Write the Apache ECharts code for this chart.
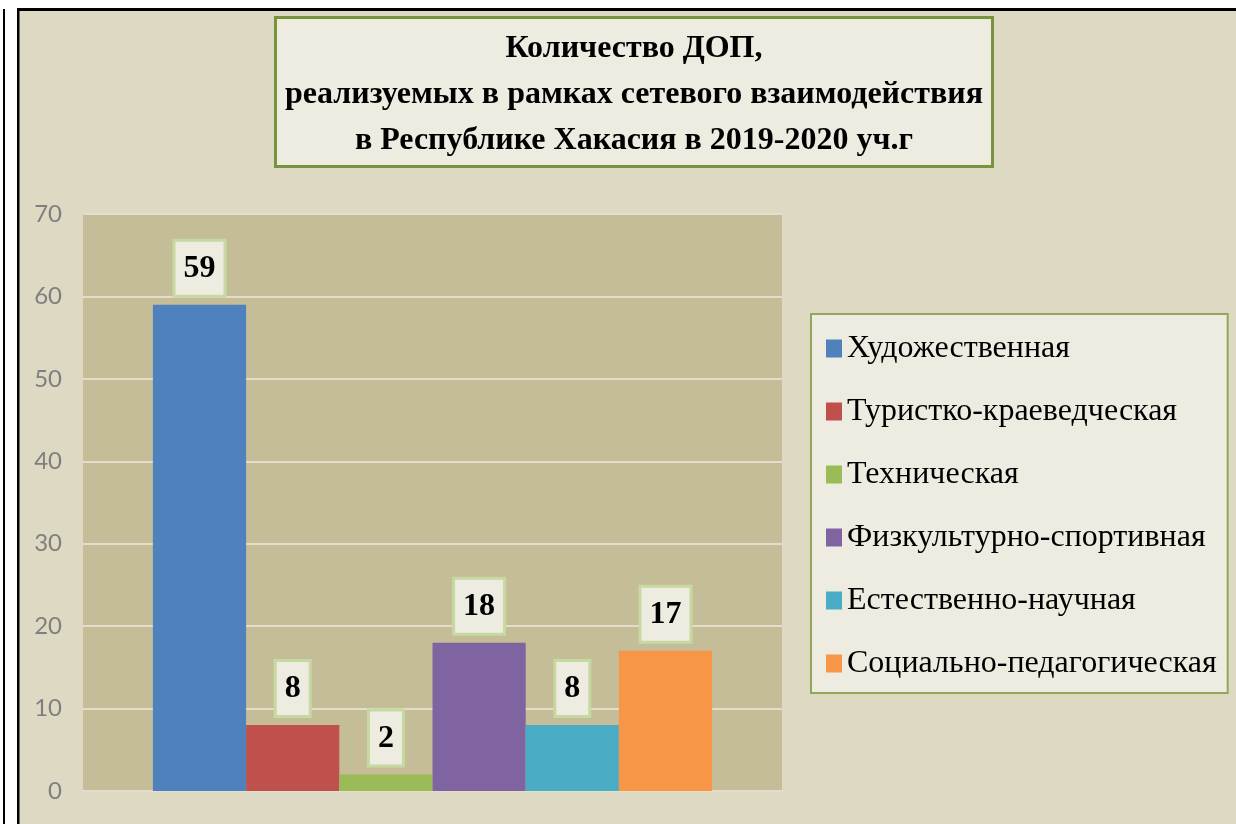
<!DOCTYPE html>
<html>
<head>
<meta charset="utf-8">
<script src="https://cdn.jsdelivr.net/npm/echarts@6/dist/echarts.min.js"></script>
<style>
  html, body { margin: 0; padding: 0; background: #fff; }
  #chart { width: 1236px; height: 824px; }
</style>
</head>
<body>
<div id="chart"></div>
<script>
// данные диаграммы
var seriesNames = [
  'Художественная',
  'Туристко-краеведческая',
  'Техническая',
  'Физкультурно-спортивная',
  'Естественно-научная',
  'Социально-педагогическая'
]
var seriesValues = [59, 8, 2, 18, 8, 17]
var seriesColors = ['#4F81BD', '#C0504D', '#9BBB59', '#8064A2', '#4BACC6', '#F79646']
var categories = ['']
var titleText = 'Количество ДОП,\nреализуемых в рамках сетевого взаимодействия\nв Республике Хакасия в 2019-2020 уч.г'

var chart = echarts.init(document.getElementById('chart'))

var series = seriesNames.map(function(name, i) {
  return {
    name: name,
    type: 'bar',
    barGap: 0,
    barCategoryGap: '20%',
    itemStyle: { color: seriesColors[i] },
    label: {
      show: true,
      position: 'top',
      distance: 10,
      color: '#000',
      fontFamily: 'Liberation Serif',
      fontWeight: 'bold',
      fontSize: 32,
      lineHeight: 34,
      backgroundColor: '#EEECE1',
      borderColor: '#C6D9A0',
      borderWidth: 3,
      padding: [10, 8, 9, 8]
    },
    data: [seriesValues[i]]
  }
})

chart.setOption({
  backgroundColor: '#fff',
  animation: false,
  graphic: [
    // фон слайда и чёрная рамка
    { type: 'rect', z: -10, shape: { x: 19, y: 11, width: 1230, height: 820 }, style: { fill: '#DDD9C3' } },
    { type: 'rect', z: -9, shape: { x: 17, y: 8, width: 1230, height: 3 }, style: { fill: '#000' } },
    { type: 'rect', z: -9, shape: { x: 17, y: 8, width: 2.5, height: 820 }, style: { fill: '#000' } },
    { type: 'rect', z: -9, shape: { x: 3, y: 9, width: 2, height: 820 }, style: { fill: '#000' } }
  ],
  title: {
    text: titleText,
    left: 624,
    top: 17,
    textAlign: 'center',
    backgroundColor: '#EEECE1',
    borderColor: '#77933C',
    borderWidth: 3,
    padding: [9, 10, 3, 10],
    textStyle: {
      fontFamily: 'Liberation Serif',
      fontWeight: 'bold',
      fontSize: 32,
      lineHeight: 46,
      color: '#000'
    }
  },
  legend: {
    orient: 'vertical',
    left: 811,
    top: 314,
    backgroundColor: '#EEECE1',
    borderColor: '#8FA85A',
    borderWidth: 2,
    padding: [16, 11, 11, 15],
    itemWidth: 16,
    itemHeight: 18,
    itemGap: 26,
    icon: 'rect',
    textStyle: {
      fontFamily: 'Liberation Serif',
      fontSize: 32,
      lineHeight: 37,
      color: '#000'
    },
    data: seriesNames
  },
  grid: {
    left: 83,
    right: 454,
    top: 214,
    bottom: 33,
    show: true,
    backgroundColor: '#C4BD97',
    borderWidth: 0
  },
  xAxis: {
    type: 'category',
    data: categories,
    axisLine: { show: true, lineStyle: { color: '#E2DECB', width: 2 } },
    axisTick: { show: false },
    axisLabel: { show: false }
  },
  yAxis: {
    type: 'value',
    min: 0,
    max: 70,
    interval: 10,
    axisLine: { show: false },
    axisTick: { show: false },
    axisLabel: {
      color: '#7F7F7F',
      fontFamily: 'Lato',
      fontSize: 24,
      margin: 21
    },
    splitLine: { lineStyle: { color: '#E2DECB', width: 2 } }
  },
  series: series
})
</script>
</body>
</html>
